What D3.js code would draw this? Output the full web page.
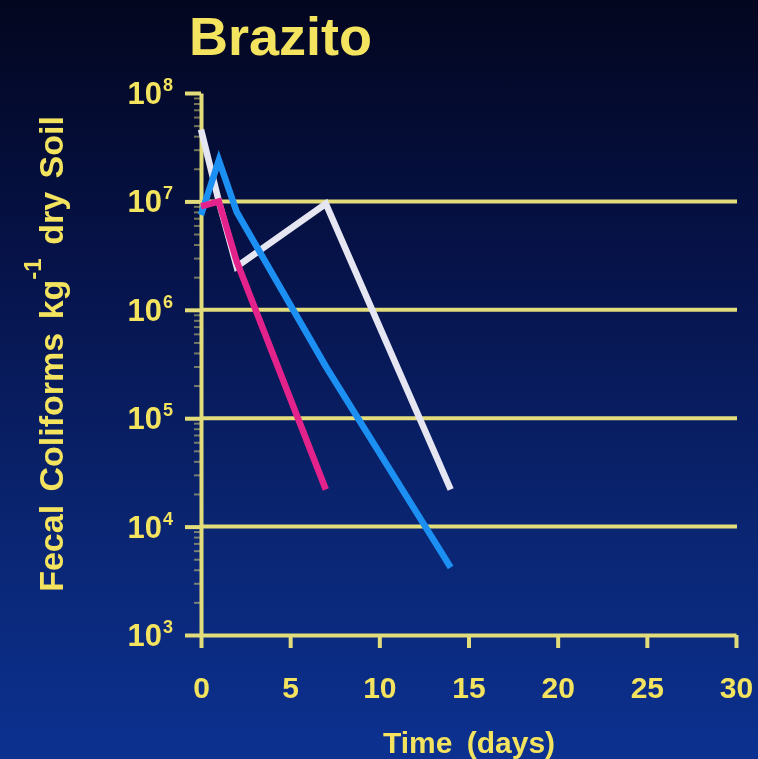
<!DOCTYPE html>
<html>
<head>
<meta charset="utf-8">
<script src="https://cdn.jsdelivr.net/npm/d3@7"></script>
<style>
  html, body { margin: 0; padding: 0; background: #050a30; }
  svg { display: block; }
</style>
</head>
<body>
<script>
// Fecal coliform die-off in Brazito soil (log scale)
const whiteDays = [0, 1, 2, 7, 14];
const whiteValues = [4.6e7, 1.0e7, 2.5e6, 9.5e6, 2.2e4];

const magentaDays = [0, 1, 2, 7];
const magentaValues = [9.0e6, 1.0e7, 2.8e6, 2.2e4];

const blueDays = [0, 1, 2, 7, 14];
const blueValues = [7.5e6, 2.4e7, 8.0e6, 3.0e5, 4.2e3];

const xTicks = [0, 5, 10, 15, 20, 25, 30];
const yDecades = [1e3, 1e4, 1e5, 1e6, 1e7, 1e8];
const yExponents = ["3", "4", "5", "6", "7", "8"];
const gridDecades = [1e4, 1e5, 1e6, 1e7];

const W = 758, H = 759;
const YELLOW = "#f3e35e";
const GRID = "#e2dc7a";
const FONT = "'Liberation Sans', Arial, Helvetica, sans-serif";

const x = d3.scaleLinear().domain([0, 30]).range([201, 736]);
const y = d3.scaleLog().domain([1e3, 1e8]).range([635, 93]);

const svg = d3.select("body").append("svg")
  .attr("width", W).attr("height", H);

const defs = svg.append("defs");
const bg = defs.append("linearGradient").attr("id", "bg")
  .attr("x1", 0).attr("y1", 0).attr("x2", 0).attr("y2", 1);
bg.append("stop").attr("offset", "0%").attr("stop-color", "#03061f");
bg.append("stop").attr("offset", "35%").attr("stop-color", "#06134a");
bg.append("stop").attr("offset", "70%").attr("stop-color", "#0a2572");
bg.append("stop").attr("offset", "100%").attr("stop-color", "#0c3190");

defs.append("filter").attr("id", "soft")
  .append("feGaussianBlur").attr("stdDeviation", 0.7);

svg.append("rect").attr("width", W).attr("height", H).attr("fill", "url(#bg)");

const g = svg.append("g").attr("filter", "url(#soft)");

// Horizontal reference lines at each interior decade
g.append("g").selectAll("line").data(gridDecades).join("line")
  .attr("x1", x(0)).attr("x2", 737)
  .attr("y1", d => y(d)).attr("y2", d => y(d))
  .attr("stroke", GRID).attr("stroke-width", 4);

// Y axis: minor ticks
const minorTicks = [];
for (let e = 3; e < 8; e++) for (let m = 2; m <= 9; m++) minorTicks.push(m * Math.pow(10, e));

const yMinor = g.append("g").attr("transform", `translate(${x(0)},0)`)
  .call(d3.axisLeft(y).tickValues(minorTicks).tickSize(7).tickFormat(() => ""));
yMinor.select(".domain").remove();
yMinor.selectAll("line").attr("stroke", GRID).attr("stroke-width", 2).attr("opacity", 0.5);

// Y axis: decades
const yAxis = g.append("g").attr("transform", `translate(${x(0)},0)`)
  .call(d3.axisLeft(y).tickValues(yDecades).tickSize(16).tickSizeOuter(0).tickFormat(() => ""));
yAxis.select(".domain").attr("stroke", GRID).attr("stroke-width", 4);
yAxis.selectAll(".tick line").attr("stroke", GRID).attr("stroke-width", 4);

const yLab = g.append("g").selectAll("text").data(yDecades).join("text")
  .attr("x", 173).attr("y", d => y(d) + 11)
  .attr("text-anchor", "end")
  .attr("fill", YELLOW)
  .attr("font-family", FONT).attr("font-weight", "bold").attr("font-size", 31);
yLab.append("tspan").text("10");
yLab.append("tspan").attr("dx", 1).attr("dy", -13).attr("font-size", 18).text((d, i) => yExponents[i]);

// X axis
const xAxis = g.append("g").attr("transform", `translate(0,${y(1e3)})`)
  .call(d3.axisBottom(x).tickValues(xTicks).tickSize(13).tickSizeOuter(0).tickPadding(29));
xAxis.select(".domain").attr("stroke", GRID).attr("stroke-width", 4);
xAxis.selectAll(".tick line").attr("stroke", GRID).attr("stroke-width", 4);
xAxis.selectAll(".tick text")
  .attr("fill", YELLOW)
  .attr("font-family", FONT).attr("font-weight", "bold").attr("font-size", 30);

// Series
const line = d3.line().x(d => x(d[0])).y(d => y(d[1]));
const series = [
  { days: whiteDays, values: whiteValues, color: "#e6e6f2" },
  { days: blueDays, values: blueValues, color: "#1e8ff2" },
  { days: magentaDays, values: magentaValues, color: "#e3248c" }
];
g.append("g").selectAll("path").data(series).join("path")
  .attr("d", s => line(s.days.map((d, i) => [d, s.values[i]])))
  .attr("fill", "none")
  .attr("stroke", s => s.color)
  .attr("stroke-width", 6.5)
  .attr("stroke-linejoin", "miter")
  .attr("stroke-linecap", "butt");

// Titles
g.append("text")
  .attr("x", 189).attr("y", 55)
  .attr("fill", YELLOW)
  .attr("font-family", FONT).attr("font-weight", "bold").attr("font-size", 54)
  .text("Brazito");

g.append("text")
  .attr("x", 469).attr("y", 753)
  .attr("text-anchor", "middle")
  .attr("fill", YELLOW)
  .attr("font-family", FONT).attr("font-weight", "bold").attr("font-size", 30)
  .attr("word-spacing", 6)
  .text("Time (days)");

const yTitle = g.append("text")
  .attr("transform", "translate(63,354) rotate(-90)")
  .attr("text-anchor", "middle")
  .attr("fill", YELLOW)
  .attr("font-family", FONT).attr("font-weight", "bold").attr("font-size", 34)
  .attr("word-spacing", 4);
yTitle.append("tspan").text("Fecal Coliforms kg");
yTitle.append("tspan").attr("dy", -22).attr("font-size", 24).text("-1");
yTitle.append("tspan").attr("dy", 22).text(" dry Soil");
</script>
</body>
</html>
